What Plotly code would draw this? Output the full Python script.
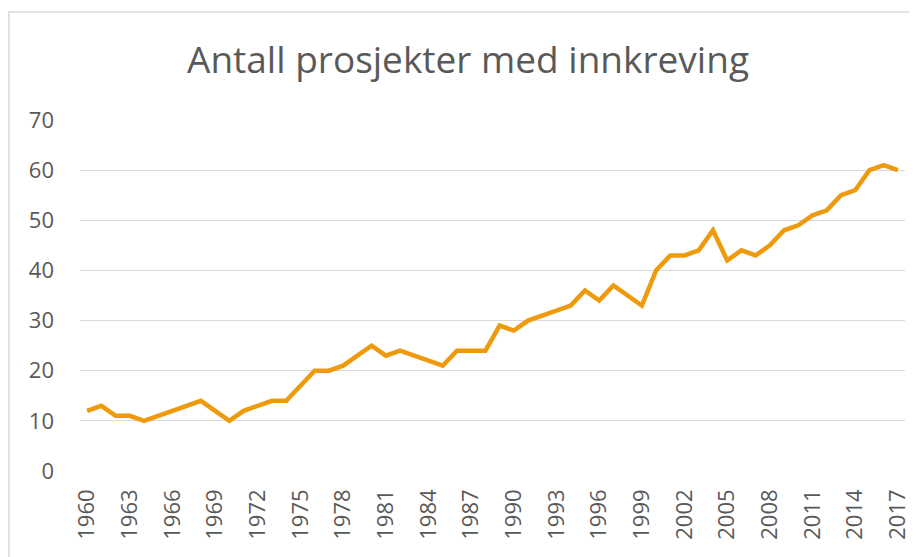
import plotly.graph_objects as go

# Antall prosjekter med innkreving per år
years = list(range(1960, 2018))
projects = [
    12, 13, 11, 11, 10, 11, 12, 13, 14, 12,
    10, 12, 13, 14, 14, 17, 20, 20, 21, 23,
    25, 23, 24, 23, 22, 21, 24, 24, 24, 29,
    28, 30, 31, 32, 33, 36, 34, 37, 35, 33,
    40, 43, 43, 44, 48, 42, 44, 43, 45, 48,
    49, 51, 52, 55, 56, 60, 61, 60,
]
tick_years = list(range(1960, 2018, 3))
y_ticks = [0, 10, 20, 30, 40, 50, 60, 70]

# the page body has an 8px margin, so positions are offset by that
W, H = 917, 557
ML, MR, MT, MB = 72, 20, 112, 94
TEXT = "#595959"

fig = go.Figure()
fig.add_trace(
    go.Scatter(
        x=years,
        y=projects,
        mode="lines",
        line=dict(color="#EE9A0C", width=4.5),
        hoverinfo="x+y",
    )
)

# thin grey frame round the chart (cropped on the right and bottom)
pw, ph = W - ML - MR, H - MT - MB
fig.add_shape(
    type="rect",
    xref="paper", yref="paper",
    x0=(1 - ML) / pw, x1=1.2,
    y0=-0.5, y1=1 + (MT - 4) / ph,
    line=dict(color="#d9d9d9", width=1.5),
    fillcolor="rgba(0,0,0,0)",
    layer="below",
)

fig.update_layout(
    width=W,
    height=H,
    margin=dict(l=ML, r=MR, t=MT, b=MB),
    paper_bgcolor="white",
    plot_bgcolor="white",
    showlegend=False,
    font=dict(family="Open Sans", color=TEXT),
    title=dict(
        text="Antall prosjekter med innkreving",
        x=460 / W,
        xanchor="center",
        y=1 - 52 / H,
        yanchor="middle",
        font=dict(size=37, color=TEXT),
    ),
    xaxis=dict(
        range=[1959.5, 2017.5],
        tickmode="array",
        tickvals=tick_years,
        ticktext=[str(y) for y in tick_years],
        tickangle=-90,
        tickfont=dict(size=22, color=TEXT),
        showgrid=False,
        zeroline=False,
        showline=False,
        ticks="",
        ticklabelstandoff=13,
    ),
    yaxis=dict(
        range=[0, 70],
        tickmode="array",
        tickvals=y_ticks,
        tickfont=dict(size=22, color=TEXT),
        gridcolor="#d9d9d9",
        gridwidth=1,
        zeroline=False,
        showline=False,
        ticks="",
        ticklabelstandoff=25,
    ),
)

fig.write_html("out.html")
